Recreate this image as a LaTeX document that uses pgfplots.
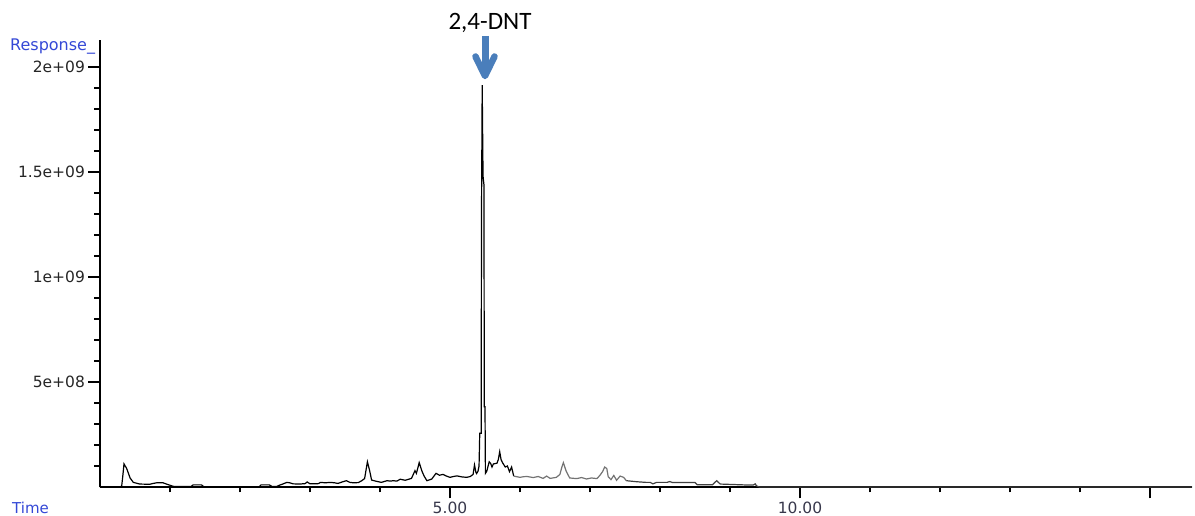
\documentclass[border=0pt]{standalone}
\usepackage{fontspec}
\setmainfont{DejaVu Sans}
\newfontfamily\calibri{Carlito}
\usepackage{pgfplots}
\pgfplotsset{compat=1.18}
\definecolor{resp}{RGB}{52,72,214}
\definecolor{arrowblue}{RGB}{74,126,187}
\definecolor{xlab}{RGB}{55,55,75}
\begin{document}
\begin{tikzpicture}[x=1pt,y=1pt]
\path[use as bounding box] (0,0) rectangle (1195,516);
\begin{axis}[
  at={(100pt,29pt)}, anchor=origin,
  scale only axis, width=1092pt, height=447pt,
  xmin=0, xmax=15.6, ymin=0, ymax=21.29,
  axis x line*=bottom, axis y line*=left,
  axis line style={line width=1.2pt, black},
  tick align=outside,
  major tick length=11.5pt, minor tick length=5.5pt,
  every tick/.style={black, line width=1.2pt},
  xtick={5,10,15}, xticklabels={{\mbox{5.00}},{\mbox{10.00}},{}},
  minor xtick={1,2,3,4,6,7,8,9,11,12,13,14},
  ytick={5,10,15,20}, yticklabels={{\mbox{5e+08}},{\mbox{1e+09}},{\mbox{1.5e+09}},{\mbox{2e+09}}},
  minor ytick={1,2,3,4,6,7,8,9,11,12,13,14,16,17,18,19},
  ticklabel style={font=\fontsize{15.5}{18}\selectfont},
  yticklabel style={text=black!85},
  xticklabel style={text=xlab},
  clip=false,
]
\addplot[black, line width=1.2pt] coordinates {
(0,0) (0.29,0) (0.31,0.05) (0.325,0.5) (0.343,1.1) (0.36,1.0) (0.38,0.89) (0.43,0.43)
(0.476,0.22) (0.57,0.14) (0.71,0.13) (0.76,0.17) (0.81,0.2) (0.9,0.2) (0.95,0.14)
(1.02,0.06) (1.06,0.02) (1.3,0.02) (1.33,0.1) (1.45,0.1) (1.48,0.02) (1.6,0)
(2.27,0) (2.3,0.1) (2.42,0.1) (2.46,0.02) (2.52,0.02) (2.56,0.08) (2.61,0.14)
(2.67,0.22) (2.71,0.2) (2.76,0.15) (2.85,0.14) (2.93,0.16) (2.96,0.24) (3.0,0.15)
(3.12,0.16) (3.15,0.22) (3.22,0.2) (3.29,0.22) (3.35,0.2) (3.4,0.17) (3.46,0.24)
(3.52,0.3) (3.57,0.22) (3.62,0.2) (3.69,0.21) (3.74,0.3) (3.78,0.4) (3.805,0.9)
(3.82,1.2) (3.85,0.81) (3.88,0.33) (3.95,0.27) (4.02,0.22) (4.1,0.3) (4.15,0.28)
(4.19,0.3) (4.24,0.28) (4.29,0.37) (4.36,0.32) (4.42,0.38) (4.45,0.41) (4.5,0.78)
(4.52,0.65) (4.54,0.9) (4.56,1.16) (4.6,0.75) (4.63,0.52) (4.67,0.3) (4.74,0.38)
(4.8,0.65) (4.85,0.56) (4.9,0.6) (4.95,0.52) (5.0,0.46) (5.05,0.5) (5.1,0.53)
(5.17,0.48) (5.24,0.46) (5.29,0.5) (5.33,0.6) (5.35,1.05) (5.37,0.7) (5.38,0.64)
(5.40,0.75) (5.415,1.0) (5.425,2.56) (5.445,2.56) (5.45,13.0) (5.46,19.14)
(5.472,14.8) (5.485,14.4) (5.49,3.82) (5.50,3.82) (5.506,0.65) (5.525,0.75)
(5.56,1.2) (5.58,1.13) (5.60,0.95) (5.62,1.1) (5.67,1.13) (5.69,1.3) (5.71,1.68)
(5.73,1.3) (5.75,1.16) (5.79,0.95) (5.82,1.0) (5.85,0.73) (5.88,0.95) (5.91,0.52)
};
\addplot[black!55, line width=1.2pt] coordinates {
(5.91,0.52) (6.0,0.46) (6.05,0.49) (6.1,0.5) (6.19,0.45) (6.26,0.5) (6.33,0.41)
(6.38,0.52) (6.43,0.41) (6.52,0.46) (6.57,0.6) (6.6,0.97) (6.62,1.16) (6.64,0.95)
(6.66,0.75) (6.71,0.43) (6.81,0.4) (6.88,0.45) (6.95,0.38) (7.02,0.43) (7.1,0.4)
(7.14,0.55) (7.18,0.73) (7.21,0.95) (7.24,0.88) (7.26,0.49) (7.3,0.35) (7.34,0.55)
(7.38,0.32) (7.43,0.52) (7.48,0.46) (7.52,0.3)
};
\addplot[black!75, line width=1.2pt] coordinates {
(7.52,0.3) (7.67,0.25) (7.8,0.22) (7.86,0.22) (7.9,0.15) (7.95,0.22) (8.1,0.22)
(8.14,0.26) (8.18,0.21) (8.5,0.21) (8.53,0.11) (8.75,0.11) (8.81,0.3) (8.86,0.14)
(9.2,0.1) (9.33,0.09) (9.36,0.15) (9.38,0.05) (9.42,0) (15.6,0)
};
\end{axis}
\node[anchor=base west, inner sep=0, text=resp, font=\fontsize{16}{18}\selectfont] at (10,465) {Response\_};
\node[anchor=base west, inner sep=0, text=resp, font=\fontsize{15}{18}\selectfont] at (12,2) {Time};
\node[anchor=base, inner sep=0, font=\calibri\fontsize{25}{28}\selectfont] at (490,486) {2,4-DNT};
\draw[arrowblue, line width=7pt] (485,480) -- (485,445);
\draw[arrowblue, line width=6.5pt, line cap=round, line join=round] (475.5,459.5) -- (485,440) -- (494.5,459.5);
\end{tikzpicture}
\end{document}
